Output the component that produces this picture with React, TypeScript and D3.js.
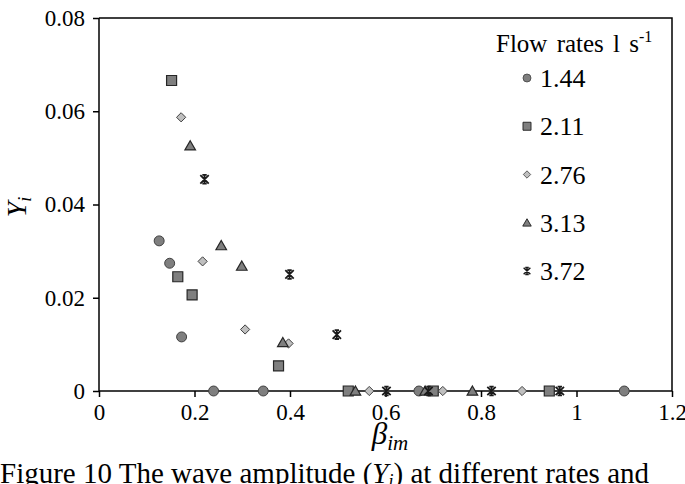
import React, { useEffect, useRef } from "react";
import * as d3 from "d3";

// flow rates (l s-1) shown in the legend
const flowRates = ["1.44", "2.11", "2.76", "3.13", "3.72"];

// beta_im / Y_i, one pair of arrays per flow rate
const beta144 = [0.126, 0.148, 0.173, 0.24, 0.344, 0.67, 1.1];
const y144 = [0.0322, 0.0274, 0.0116, 0, 0, 0, 0];

const beta211 = [0.152, 0.165, 0.195, 0.376, 0.522, 0.7, 0.943];
const y211 = [0.0666, 0.0245, 0.0206, 0.0054, 0, 0, 0];

const beta276 = [0.172, 0.217, 0.306, 0.397, 0.566, 0.72, 0.886];
const y276 = [0.0587, 0.0278, 0.0132, 0.0102, 0, 0, 0];

const beta313 = [0.191, 0.256, 0.299, 0.385, 0.537, 0.683, 0.782];
const y313 = [0.0526, 0.0312, 0.0268, 0.0104, 0, 0, 0];

const beta372 = [0.221, 0.399, 0.498, 0.602, 0.69, 0.822, 0.965];
const y372 = [0.0454, 0.025, 0.0121, 0, 0, 0, 0];

const xTicks = [0, 0.2, 0.4, 0.6, 0.8, 1, 1.2];
const yTicks = [0, 0.02, 0.04, 0.06, 0.08];

const FONT = "'Times New Roman', 'Liberation Serif', serif";

const markerPath = (shape: string) => {
  if (shape === "circle") return d3.symbol(d3.symbolCircle, 78)()!;
  if (shape === "square") return "M-5,-5H5V5H-5Z";
  if (shape === "diamond") return "M0,-4.6L4.6,0L0,4.6L-4.6,0Z";
  if (shape === "triangle") return "M0,-5L5.3,4.2H-5.3Z";
  // excel style star: x + vertical bar + short caps
  return "M-4.2,-4.2L4.2,4.2M-4.2,4.2L4.2,-4.2M0,-4.6V4.6M-2.2,-4.4H2.2M-2.2,4.4H2.2";
};

const styles: { [k: string]: { fill: string; stroke: string; sw: number } } = {
  circle: { fill: "#7f7f7f", stroke: "#404040", sw: 1 },
  square: { fill: "#7f7f7f", stroke: "#262626", sw: 1.2 },
  diamond: { fill: "#bfbfbf", stroke: "#404040", sw: 1 },
  triangle: { fill: "#7f7f7f", stroke: "#262626", sw: 1.2 },
  star: { fill: "none", stroke: "#1a1a1a", sw: 1.8 },
};

export default function App() {
  const ref = useRef<SVGSVGElement>(null);

  useEffect(() => {
    const svg = d3.select(ref.current);
    svg.selectAll("*").remove();

    const x = d3.scaleLinear().domain([0, 1.2]).range([99, 672]);
    const y = d3.scaleLinear().domain([0, 0.08]).range([391, 18]);

    const series = [
      { name: flowRates[0], shape: "circle", xs: beta144, ys: y144 },
      { name: flowRates[1], shape: "square", xs: beta211, ys: y211 },
      { name: flowRates[2], shape: "diamond", xs: beta276, ys: y276 },
      { name: flowRates[3], shape: "triangle", xs: beta313, ys: y313 },
      { name: flowRates[4], shape: "star", xs: beta372, ys: y372 },
    ];

    // frame top / right
    svg.append("path")
      .attr("d", `M${x(0)},${y(0.08)}H${x(1.2)}V${y(0)}`)
      .attr("fill", "none")
      .attr("stroke", "#000")
      .attr("stroke-width", 1.5);

    const xAxis = svg.append("g")
      .attr("transform", `translate(0,${y(0)})`)
      .call(d3.axisBottom(x).tickValues(xTicks).tickSize(6).tickPadding(5)
        .tickFormat((d) => d3.format("")(+d)));
    const yAxis = svg.append("g")
      .attr("transform", `translate(${x(0)},0)`)
      .call(d3.axisLeft(y).tickValues(yTicks).tickSize(6).tickPadding(8)
        .tickFormat((d) => (d === 0 ? "0" : d3.format(".2f")(+d))));

    [xAxis, yAxis].forEach((a) => {
      a.attr("font-family", FONT).attr("font-size", 23);
      a.select(".domain").attr("stroke", "#000").attr("stroke-width", 1.5);
      a.selectAll(".tick line").attr("stroke", "#000").attr("stroke-width", 1.5);
      a.selectAll(".tick text").attr("fill", "#000");
    });
    yAxis.select(".domain").attr("d", `M0,${y(0.08)}V${y(0)}`);
    xAxis.select(".domain").attr("d", `M${x(0)},0H${x(1.2)}`);
    xAxis.selectAll(".tick text").attr("dy", "0.8em");

    // points
    series.forEach((s) => {
      const st = styles[s.shape];
      svg.append("g")
        .selectAll("path")
        .data(s.xs.map((v, i) => [v, s.ys[i]]))
        .join("path")
        .attr("transform", (d) => `translate(${x(d[0])},${y(d[1])})`)
        .attr("d", markerPath(s.shape))
        .attr("fill", st.fill)
        .attr("stroke", st.stroke)
        .attr("stroke-width", st.sw);
    });

    // legend
    const lg = svg.append("g");
    const title = lg.append("text")
      .attr("x", 496)
      .attr("y", 52)
      .attr("font-family", FONT)
      .attr("font-size", 25)
      .attr("word-spacing", 3)
      .attr("fill", "#000");
    title.append("tspan").text("Flow rates l s");
    title.append("tspan").attr("font-size", 16).attr("dy", -10).text("-1");

    const legendY = d3.scalePoint<string>().domain(flowRates).range([78, 271]);
    series.forEach((s) => {
      const st = styles[s.shape];
      const cy = legendY(s.name)!;
      lg.append("path")
        .attr("transform", `translate(527,${cy}) scale(0.8)`)
        .attr("d", markerPath(s.shape))
        .attr("fill", st.fill)
        .attr("stroke", st.stroke)
        .attr("stroke-width", st.sw);
      lg.append("text")
        .attr("x", 540)
        .attr("y", cy + 9)
        .attr("font-family", FONT)
        .attr("font-size", 26)
        .attr("fill", "#000")
        .text(s.name);
    });

    // axis titles
    const xt = svg.append("text")
      .attr("x", 390)
      .attr("y", 444)
      .attr("text-anchor", "middle")
      .attr("font-family", FONT)
      .attr("font-style", "italic")
      .attr("font-size", 31)
      .attr("fill", "#000");
    xt.append("tspan").text("β");
    xt.append("tspan").attr("font-size", 21).attr("dy", 6).text("im");

    const yt = svg.append("text")
      .attr("transform", "translate(26,207) rotate(-90)")
      .attr("text-anchor", "middle")
      .attr("font-family", FONT)
      .attr("font-style", "italic")
      .attr("font-size", 28)
      .attr("fill", "#000");
    yt.append("tspan").text("Y");
    yt.append("tspan").attr("font-size", 18).attr("dy", 5).text("i");

    // caption, cut at the bottom of the picture
    const cap = svg.append("text")
      .attr("x", 0)
      .attr("y", 483)
      .attr("font-family", FONT)
      .attr("font-size", 29)
      .attr("fill", "#000");
    cap.append("tspan").text("Figure 10 The wave amplitude (");
    cap.append("tspan").attr("font-style", "italic").text("Y");
    cap.append("tspan").attr("font-style", "italic").attr("font-size", 18).attr("dy", 4).text("i");
    cap.append("tspan").attr("dy", -4).text(") at different rates and");
  }, []);

  return (
    <svg
      ref={ref}
      width={685}
      height={484}
      style={{ position: "absolute", left: 0, top: 0, background: "#fff" }}
    />
  );
}
